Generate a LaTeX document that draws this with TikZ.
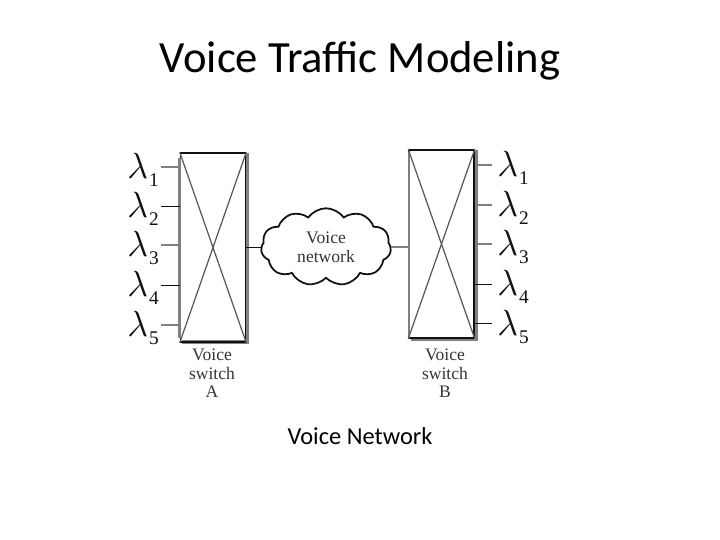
\documentclass[tikz,border=0pt]{standalone}
\usepackage{xcolor}
\usepackage{fontspec}
\setmainfont{Carlito}
\newfontfamily\scanfont{Liberation Serif}
\usetikzlibrary{shapes.symbols}
\definecolor{inchiostro}{HTML}{111111}
\definecolor{grigio}{HTML}{808080}
\newcommand{\lamsub}[1]{$\lambda$\kern0.5pt\lower4.5pt\hbox{\scanfont\fontsize{11}{12}\selectfont #1}}
\tikzset{
  switchbox/.style={draw=inchiostro, line width=0.9pt, inner sep=0pt},
  crossline/.style={draw=inchiostro!70, line width=0.7pt},
  striplabel/.style={font=\scanfont\fontsize{10}{10.4}\selectfont, text=inchiostro!85, align=center, inner sep=0pt},
  stubthick/.style={draw=grigio, line width=1.6pt},
  stubthin/.style={draw=inchiostro, line width=0.5pt},
  lam/.style={font=\fontsize{20.5}{22}\selectfont, text=inchiostro, inner sep=0pt, anchor=west}
}
\begin{document}
\begin{tikzpicture}[x=0.02cm,y=-0.02cm]
        \useasboundingbox (0,0) rectangle (720,540);
        \fill[white] (0,0) rectangle (720,540);
        \node[font=\fontsize{25.4}{28}\selectfont] (titolo) at (360,61) {Voice Traffic Modeling};
        \node[font=\fontsize{13.9}{16}\selectfont] (didascalia) at (360,436) {Voice Network};
        % Switch A
        \draw[line width=2pt, grigio] (182,342) -- (247,342) -- (247,153);
        \node[switchbox, minimum width=1.3cm, minimum height=3.78cm] (sa) at (213,247.5) {};
        \draw[line width=1.2pt, grigio] (179.5,158) -- (179.5,338);
        \draw[crossline] (sa.north west) -- (sa.south east);
        \draw[crossline] (sa.south west) -- (sa.north east);
        \node[striplabel, below=0pt] (labela) at (212,349) {Voice\\switch\\A};
        % Switch B
        \draw[line width=2pt, grigio] (411,339) -- (476,339) -- (476,150);
        \node[switchbox, minimum width=1.3cm, minimum height=3.76cm] (sb) at (441.5,244) {};
        \draw[line width=1.6pt, grigio] (409,152) -- (409,338);
        \draw[crossline] (sb.north west) -- (sb.south east);
        \draw[crossline] (sb.south west) -- (sb.north east);
        \node[striplabel, below=0pt] (labelb) at (445,349) {Voice\\switch\\B};
        % Nuvola
        \node[cloud, draw=inchiostro, line width=1pt, fill=white, cloud puffs=11, cloud puff arc=110, aspect=1.7, minimum width=2.6cm, minimum height=1.55cm, inner sep=0pt, font=\scanfont\fontsize{10}{10.8}\selectfont, text=inchiostro!85, align=center] (rete) at (326,247) {Voice\\network};
        \draw[stubthin] (sa.east |- rete.west) -- (rete.west);
        \draw[stubthick] (rete.east) -- (sb.west |- rete.east);
        % Linee e lambda
        \foreach \n/\ya/\yb/\tipoa/\tipob in {1/167/165/stubthick/stubthick,2/206/205/stubthin/stubthick,3/245/244/stubthick/stubthick,4/285/284/stubthin/stubthin,5/325/323.5/stubthick/stubthin} {
          \coordinate (pa\n) at (161,\ya);
          \coordinate (qa\n) at (sa.west |- pa\n);
          \coordinate (pb\n) at (491.5,\yb);
          \coordinate (qb\n) at (sb.east |- pb\n);
          \draw[\tipoa] (pa\n) -- (qa\n);
          \draw[\tipob] (qb\n) -- (pb\n);
          \node[lam] (la\n) at (127,\ya+3) {\lamsub{\n}};
          \node[lam] (lb\n) at (497,\yb+3) {\lamsub{\n}};
        }
    \end{tikzpicture}
\end{document}
